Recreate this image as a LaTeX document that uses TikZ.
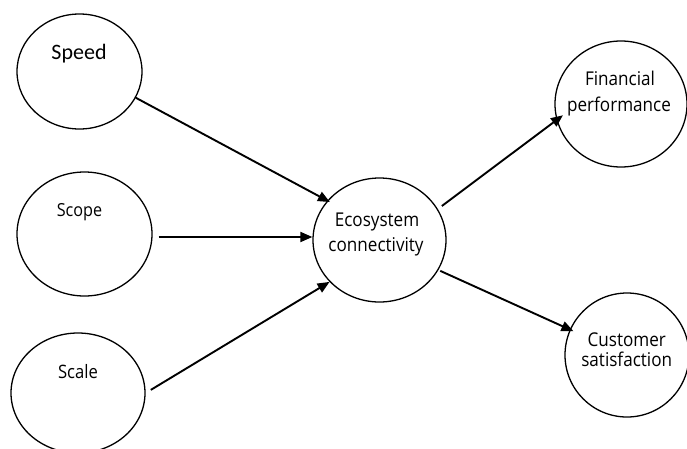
\documentclass[tikz,border=0pt]{standalone}
\usepackage{fontspec}
\setmainfont{Open Sans}[FakeStretch=0.9]
\newfontfamily\calib{Carlito}
\usetikzlibrary{arrows.meta,shapes.geometric}
\tikzset{
  bub/.style={draw=black, line width=1.3pt, ellipse, inner sep=0pt},
  lbl/.style={anchor=base, inner sep=0pt, font=\fontsize{19}{24}\selectfont},
  arr/.style={draw=black, line width=1.9pt, -{Triangle[length=12pt,width=10pt]}}
}
\begin{document}
\begin{tikzpicture}[x=1pt,y=-1pt]
\useasboundingbox (0,0) rectangle (687,448);
% ellipses
\node[bub, minimum width=125pt, minimum height=115pt] (speed) at (79.5,71.5) {};
\node[bub, minimum width=135pt, minimum height=124pt] (scope) at (84.5,234) {};
\node[bub, minimum width=134pt, minimum height=120pt] (scale) at (78,393) {};
\node[bub, minimum width=133pt, minimum height=124pt] (eco) at (379.5,240) {};
\node[bub, minimum width=132pt, minimum height=126pt] (fin) at (621,104) {};
\node[bub, minimum width=124pt, minimum height=124pt] (cust) at (627,355) {};
% labels
\node[lbl, font=\calib\fontsize{22}{26}\selectfont] (tspeed) at (79,59.7) {Speed};
\node[lbl, font=\fontsize{18}{22}\selectfont] (tscope) at (79.5,216.7) {Scope};
\node[lbl, font=\fontsize{18.5}{22}\selectfont] (tscale) at (78,378.3) {Scale};
\node[lbl] (teco1) at (377,226.7) {Ecosystem};
\node[lbl] (teco2) at (376,251.7) {connectivity};
\node[lbl] (tfin1) at (620,85) {Financial};
\node[lbl] (tfin2) at (619,111.7) {performance};
\node[lbl] (tcust1) at (626.7,346.7) {Customer};
\node[lbl] (tcust2) at (626.7,366) {satisfaction};
% arrows
\draw[arr, shorten >=-3pt] (speed.-25) -- (eco.143);
\draw[arr] ([shift={(6pt,-3pt)}]scope.east) -- ([yshift=-3pt]scope.east -| eco.west);
\draw[arr, shorten <=6pt] (scale.east) -- (eco.220);
\draw[arr, shorten <=5pt, shorten >=-8pt] (eco.28) -- (fin.194);
\draw[arr, shorten <=2pt, shorten >=-4pt] (eco.-27) -- (cust.156);
\end{tikzpicture}
\end{document}
